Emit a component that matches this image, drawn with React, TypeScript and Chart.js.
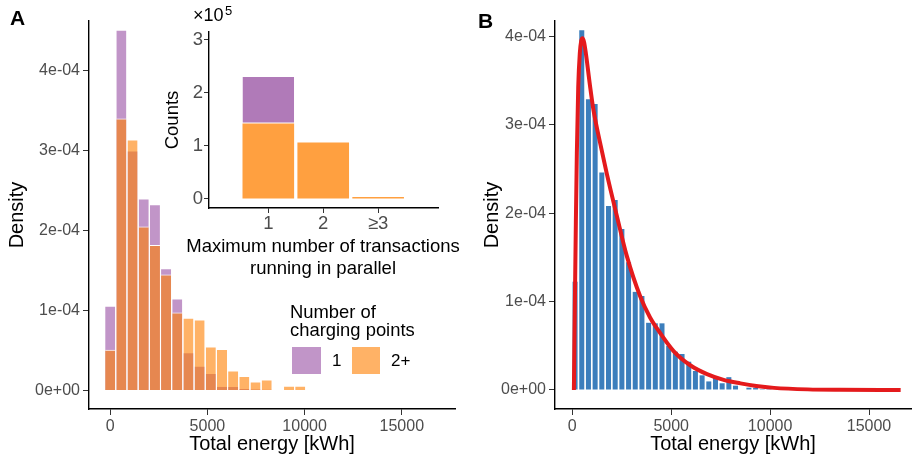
import React, { useEffect, useRef } from "react";
import { Chart, registerables } from "chart.js";

Chart.register(...registerables);

const FONT = "'Liberation Sans', Arial, sans-serif";

// ---------- Panel A: histogram of total energy by number of charging points ----------
const A_BIN_CENTERS = [0, 575, 1150, 1725, 2300, 2875, 3450, 4025, 4600, 5175, 5750, 6325, 6900, 7475, 8050, 8625, 9200, 9775];
const A_DENSITY_ONE_CP = [1.06e-4, 4.51e-4, 3.0e-4, 2.4e-4, 2.33e-4, 1.53e-4, 1.15e-4, 0.48e-4, 0.31e-4, 0.22e-4, 0.058e-4, 0.058e-4, 0.034e-4, 0.02e-4, 0.016e-4, 0, 0, 0];
const A_DENSITY_MULTI_CP = [0.51e-4, 3.4e-4, 3.14e-4, 2.05e-4, 1.82e-4, 1.45e-4, 0.975e-4, 0.91e-4, 0.89e-4, 0.55e-4, 0.52e-4, 0.25e-4, 0.184e-4, 0.1125e-4, 0.1375e-4, 0, 0.06e-4, 0.06e-4];
const A_X_TICKS = [0, 5000, 10000, 15000];
const A_X_LABELS = ["0", "5000", "10000", "15000"];
const A_Y_TICKS = [0, 1e-4, 2e-4, 3e-4, 4e-4];
const A_Y_LABELS = ["0e+00", "1e-04", "2e-04", "3e-04", "4e-04"];

// ---------- Inset: counts by max number of parallel transactions ----------
const INSET_CATS = [1, 2, 3];
const INSET_LABELS = ["1", "2", "\u22653"];
const INSET_MULTI_CP = [1.42e5, 1.064e5, 0.038e5];
const INSET_ONE_CP = [0.876e5, 0, 0];
const INSET_Y_TICKS = [0, 1e5, 2e5, 3e5];
const INSET_Y_LABELS = ["0", "1", "2", "3"];
const INSET_X_TITLE = ["Maximum number of transactions", "running in parallel"];

// ---------- Panel B: histogram of total energy with fitted density ----------
const B_BIN_CENTERS = [140, 478, 816, 1154, 1492, 1830, 2168, 2506, 2844, 3182, 3520, 3858, 4196, 4534, 4872, 5210, 5548, 5886, 6224, 6562, 6900, 7238, 7576, 7914, 8252, 8590, 8928, 9266, 9604, 9942];
const B_DENSITY = [1.225e-4, 4.07e-4, 3.29e-4, 3.235e-4, 2.46e-4, 2.08e-4, 2.15e-4, 1.82e-4, 1.445e-4, 1.11e-4, 1.063e-4, 0.76e-4, 0.754e-4, 0.754e-4, 0.5e-4, 0.433e-4, 0.407e-4, 0.32e-4, 0.215e-4, 0.166e-4, 0.097e-4, 0.145e-4, 0.076e-4, 0.145e-4, 0.049e-4, 0, 0.026e-4, 0.026e-4, 0.01e-4, 0.01e-4];
const B_FIT_X = [80, 105, 140, 180, 230, 300, 380, 450, 520, 600, 690, 890, 1060, 1400, 1740, 2240, 2750, 3430, 3930, 4270, 5120, 5960, 6810, 7650, 8500, 9300, 10200, 11900, 13500, 16600];
const B_FIT_Y = [0, 0.55e-4, 1.17e-4, 1.9e-4, 2.68e-4, 3.43e-4, 3.81e-4, 3.95e-4, 3.98e-4, 3.93e-4, 3.8e-4, 3.45e-4, 3.18e-4, 2.8e-4, 2.45e-4, 1.98e-4, 1.52e-4, 1.06e-4, 0.82e-4, 0.7e-4, 0.44e-4, 0.28e-4, 0.18e-4, 0.115e-4, 0.075e-4, 0.045e-4, 0.024e-4, 0.007e-4, 0.002e-4, 0];
const B_X_TICKS = [0, 5000, 10000, 15000];
const B_X_LABELS = ["0", "5000", "10000", "15000"];
const B_Y_TICKS = [0, 1e-4, 2e-4, 3e-4, 4e-4];
const B_Y_LABELS = ["0e+00", "1e-04", "2e-04", "3e-04", "4e-04"];

const PURPLE_A = "rgba(152,78,163,0.6)";
const ORANGE_A = "rgba(255,127,0,0.6)";

function axis(opts: any) {
  const { horizontal, min, max, ticks, labels, size, title, titlePad, tickFont, titleFont, tickPad, tickLen } = opts;
  return {
    type: "linear",
    min,
    max,
    offset: false,
    stacked: opts.stacked || false,
    afterBuildTicks: (s: any) => {
      s.ticks = ticks.map((v: number) => ({ value: v }));
    },
    afterFit: (s: any) => {
      if (horizontal) s.height = size;
      else s.width = size;
    },
    ticks: {
      callback: (_v: any, i: number) => labels[i],
      color: "#4D4D4D",
      font: { family: FONT, size: tickFont },
      padding: tickPad,
      maxRotation: 0,
      autoSkip: false,
    },
    grid: {
      display: true,
      offset: false,
      drawOnChartArea: false,
      drawTicks: true,
      tickLength: tickLen,
      color: "#333333",
      lineWidth: 1,
    },
    border: { display: true, color: "#000000", width: 1.4 },
    title: {
      display: !!title,
      text: title || "",
      color: "#000000",
      font: { family: FONT, size: titleFont, lineHeight: 1.2 },
      padding: horizontal ? { top: 0, bottom: titlePad } : { top: titlePad, bottom: 0 },
    },
  };
}

const basePlugins = { legend: { display: false }, tooltip: { enabled: false } };

export default function App() {
  const aRef = useRef<HTMLCanvasElement>(null);
  const insetRef = useRef<HTMLCanvasElement>(null);
  const bRef = useRef<HTMLCanvasElement>(null);

  useEffect(() => {
    Chart.defaults.font.family = FONT;

    const chartA = new Chart(aRef.current as HTMLCanvasElement, {
      type: "bar",
      data: {
        datasets: [
          {
            label: "2+",
            data: A_BIN_CENTERS.map((x, i) => ({ x, y: A_DENSITY_MULTI_CP[i] })),
            backgroundColor: ORANGE_A,
            borderColor: "#ffffff",
            borderWidth: { top: 1, right: 0, bottom: 0, left: 0 },
            grouped: false,
            order: 0,
            barPercentage: 0.9,
            categoryPercentage: 1,
          } as any,
          {
            label: "1",
            data: A_BIN_CENTERS.map((x, i) => ({ x, y: A_DENSITY_ONE_CP[i] })),
            backgroundColor: PURPLE_A,
            borderColor: "#ffffff",
            borderWidth: { top: 1, right: 0, bottom: 0, left: 0 },
            grouped: false,
            order: 1,
            barPercentage: 0.9,
            categoryPercentage: 1,
          } as any,
        ],
      },
      options: {
        responsive: false,
        animation: false,
        layout: { padding: { left: 0, top: 21, right: 15, bottom: 0 } },
        plugins: basePlugins as any,
        scales: {
          x: axis({ horizontal: true, min: -1090, max: 17736, ticks: A_X_TICKS, labels: A_X_LABELS, size: 53, title: "Total energy [kWh]", titlePad: 6, tickFont: 16, titleFont: 20, tickPad: 2, tickLen: 6 }),
          y: axis({ horizontal: false, min: -0.23e-4, max: 4.62e-4, ticks: A_Y_TICKS, labels: A_Y_LABELS, size: 89, title: "Density", titlePad: 5, tickFont: 16, titleFont: 20, tickPad: 3, tickLen: 6 }),
        } as any,
      },
    });

    const chartInset = new Chart(insetRef.current as HTMLCanvasElement, {
      type: "bar",
      data: {
        datasets: [
          {
            label: "2+",
            data: INSET_CATS.map((x, i) => ({ x, y: INSET_MULTI_CP[i] })),
            backgroundColor: "#FFA040",
            borderWidth: 0,
            barPercentage: 0.94,
            categoryPercentage: 1,
          } as any,
          {
            label: "1",
            data: INSET_CATS.map((x, i) => ({ x, y: INSET_ONE_CP[i] })),
            backgroundColor: "#B07AB8",
            borderColor: "#ffffff",
            borderWidth: { top: 0, right: 0, bottom: 1, left: 0 },
            borderSkipped: "end",
            barPercentage: 0.94,
            categoryPercentage: 1,
          } as any,
        ],
      },
      options: {
        responsive: false,
        animation: false,
        layout: { padding: { left: 0, top: 32, right: 12, bottom: 0 } },
        plugins: basePlugins as any,
        scales: {
          x: axis({ horizontal: true, stacked: true, min: -0.08, max: 4.09, ticks: INSET_CATS, labels: INSET_LABELS, size: 77, title: null, titlePad: 0, tickFont: 18.5, titleFont: 18.5, tickPad: 0, tickLen: 5 }),
          y: axis({ horizontal: false, stacked: true, min: -0.17e5, max: 3.14e5, ticks: INSET_Y_TICKS, labels: INSET_Y_LABELS, size: 59, title: "Counts", titlePad: 12, tickFont: 18.5, titleFont: 18.5, tickPad: 1, tickLen: 5 }),
        } as any,
      },
    });

    const chartB = new Chart(bRef.current as HTMLCanvasElement, {
      type: "bar",
      data: {
        datasets: [
          {
            type: "line",
            label: "fit",
            data: B_FIT_X.map((x, i) => ({ x, y: B_FIT_Y[i] })),
            borderColor: "#E41A1C",
            borderWidth: 4,
            pointRadius: 0,
            fill: false,
            cubicInterpolationMode: "monotone",
            borderJoinStyle: "round",
            order: 0,
          } as any,
          {
            type: "bar",
            label: "hist",
            data: B_BIN_CENTERS.map((x, i) => ({ x, y: B_DENSITY[i] })),
            backgroundColor: "#3C7EBC",
            borderWidth: 0,
            barPercentage: 0.75,
            categoryPercentage: 1,
            order: 1,
          } as any,
        ],
      },
      options: {
        responsive: false,
        animation: false,
        layout: { padding: { left: 0, top: 21, right: 2, bottom: 0 } },
        plugins: basePlugins as any,
        scales: {
          x: axis({ horizontal: true, min: -875, max: 17123, ticks: B_X_TICKS, labels: B_X_LABELS, size: 53, title: "Total energy [kWh]", titlePad: 6, tickFont: 16, titleFont: 20, tickPad: 2, tickLen: 6 }),
          y: axis({ horizontal: false, min: -0.215e-4, max: 4.174e-4, ticks: B_Y_TICKS, labels: B_Y_LABELS, size: 85, title: "Density", titlePad: 10, tickFont: 16, titleFont: 20, tickPad: 3, tickLen: 6 }),
        } as any,
      },
    });

    return () => {
      chartA.destroy();
      chartInset.destroy();
      chartB.destroy();
    };
  }, []);

  const txt: React.CSSProperties = { position: "absolute", fontFamily: FONT, color: "#000", whiteSpace: "nowrap" };

  return (
    <div style={{ position: "fixed", left: 0, top: 0, width: 913, height: 462, background: "#ffffff", overflow: "hidden" }}>
      <canvas ref={aRef} width={470} height={462} style={{ position: "absolute", left: 0, top: 0, display: "block" }} />
      <canvas ref={insetRef} width={300} height={285} style={{ position: "absolute", left: 150, top: 0, display: "block" }} />
      <canvas ref={bRef} width={443} height={462} style={{ position: "absolute", left: 470, top: 0, display: "block" }} />

      <div style={{ ...txt, left: 10, top: 7, fontSize: 21, lineHeight: "21px", fontWeight: 700 }}>A</div>
      <div style={{ ...txt, left: 478, top: 10, fontSize: 21, lineHeight: "21px", fontWeight: 700 }}>B</div>

      <div style={{ ...txt, left: 193, top: 6, fontSize: 18, lineHeight: "18px" }}>{"\u00d710"}</div>
      <div style={{ ...txt, left: 225, top: 4, fontSize: 13, lineHeight: "13px" }}>5</div>

      <div style={{ ...txt, left: 173, top: 235, width: 300, textAlign: "center", fontSize: 18.5, lineHeight: "22px" }}>
        {INSET_X_TITLE[0]}
        <br />
        {INSET_X_TITLE[1]}
      </div>

      <div style={{ ...txt, left: 290, top: 303, fontSize: 18.4, lineHeight: "18px" }}>
        Number of
        <br />
        charging points
      </div>
      <div style={{ position: "absolute", left: 292, top: 347, width: 29, height: 27, background: "#C195C8" }} />
      <div style={{ ...txt, left: 332, top: 352, fontSize: 17, lineHeight: "17px" }}>1</div>
      <div style={{ position: "absolute", left: 352, top: 347, width: 28, height: 27, background: "#FFB266" }} />
      <div style={{ ...txt, left: 391, top: 352, fontSize: 17, lineHeight: "17px" }}>2+</div>
    </div>
  );
}
